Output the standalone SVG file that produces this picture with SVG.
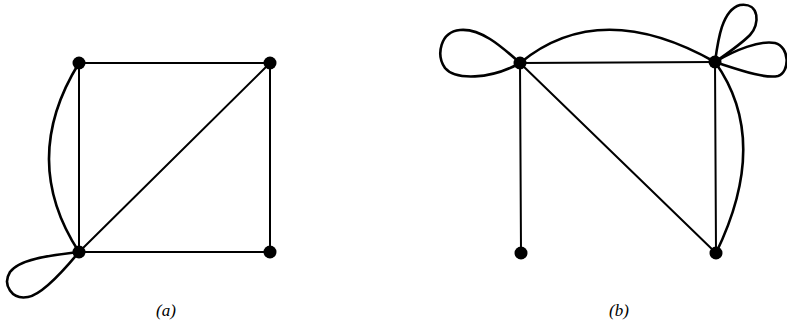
<svg xmlns="http://www.w3.org/2000/svg" width="787" height="328" viewBox="0 0 787 328">
<style>
.e{fill:none;stroke:#000;stroke-width:2;stroke-linecap:round}
.c{fill:none;stroke:#000;stroke-width:2.6;stroke-linecap:round}
.n{fill:#000}
.lbl{font-family:"Liberation Serif",serif;font-style:italic;font-size:17px;fill:#000;text-anchor:middle}
</style>
<rect width="787" height="328" fill="#fff"/>
<g id="connectors">
<line class="e" x1="79" y1="63" x2="270" y2="63"/>
<line class="e" x1="270" y1="63" x2="270" y2="252"/>
<line class="e" x1="79" y1="252" x2="270" y2="252"/>
<line class="e" x1="79" y1="63" x2="79" y2="252"/>
<line class="e" x1="79" y1="252" x2="270" y2="63"/>
<path class="c" d="M79,63 Q19,160 79,252"/>
<path class="c" d="M79,252 C55,255 20,258 10,272 C2,285 12,300 28,297 C40,295 60,275 79,252"/>
<line class="e" x1="520" y1="63" x2="715" y2="62"/>
<line class="e" x1="520" y1="63" x2="521" y2="253"/>
<line class="e" x1="520" y1="63" x2="716" y2="253"/>
<line class="e" x1="715" y1="62" x2="716" y2="253"/>
<path class="c" d="M715,62 Q771,140 716,253"/>
<path class="c" d="M520,63 Q600,-3 715,62"/>
<path class="c" d="M520,63 C500,45 480,28 460,30 C440,32 436,55 445,68 C455,80 490,80 520,63"/>
<path class="c" d="M715,62 C718,40 722,10 740,5 C760,2 760,25 750,35 C740,45 725,55 715,62"/>
<path class="c" d="M715,62 C735,50 760,40 775,43 C790,47 790,72 778,76 C765,79 740,70 715,62"/>
</g>
<g id="a-tl"><circle class="n" cx="79" cy="63" r="6.5"/></g>
<g id="a-tr"><circle class="n" cx="270" cy="63" r="6.5"/></g>
<g id="a-bl"><circle class="n" cx="79" cy="252" r="6.5"/></g>
<g id="a-br"><circle class="n" cx="270" cy="252" r="6.5"/></g>
<g id="b-tl"><circle class="n" cx="520" cy="63" r="6.5"/></g>
<g id="b-tr"><circle class="n" cx="715" cy="62" r="6.5"/></g>
<g id="b-bl"><circle class="n" cx="521" cy="253" r="6.5"/></g>
<g id="b-br"><circle class="n" cx="716" cy="253" r="6.5"/></g>
<g id="labels">
<text class="lbl" x="166" y="316">(a)</text>
<text class="lbl" x="619" y="316">(b)</text>
</g>
</svg>
